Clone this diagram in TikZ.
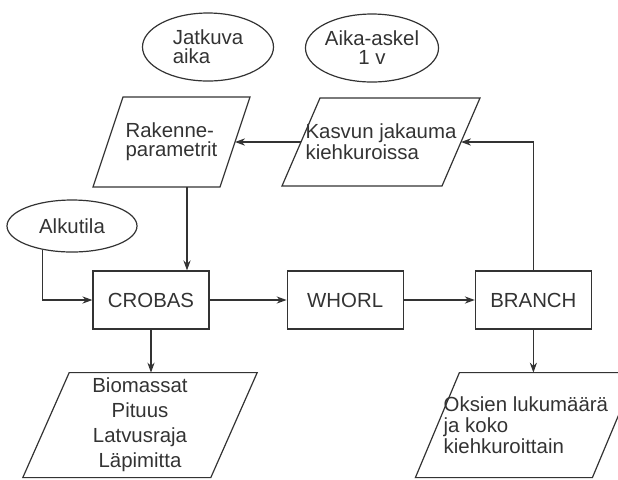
\documentclass[tikz,border=0pt]{standalone}
\usepackage{fontspec}
\setmainfont{Liberation Sans}
\usetikzlibrary{arrows.meta, positioning, shapes.geometric}

\begin{document}
\begin{tikzpicture}[x=0.5pt, y=-0.5pt, >={Stealth[length=5pt, width=3.6pt]},
    line width=0.6pt, color=black!80,
    every node/.style={font=\fontsize{10.2}{9.5}\selectfont},
    box/.style={draw, rectangle, minimum width=58pt, minimum height=29pt},
    oval/.style={draw, ellipse, inner sep=0pt, minimum width=65.5pt, minimum height=34pt},
    io/.style={rectangle, inner sep=2pt, outer sep=0pt}]
    \path[use as bounding box, clip] (0,0) rectangle (618,479);

    \node[oval, align=left] (jatkuva) at (208,47) {Jatkuva\\aika};
    \node[oval, align=center] (askel) at (372,48) {Aika-askel\\1 v};
    \node[oval, minimum width=65pt, minimum height=26pt] (alku) at (72,226) {Alkutila};

    \node[io, align=left, minimum width=63.5pt, minimum height=45pt] (rakenne) at (171.5,142) {Rakenne-\\parametrit};
    \node[io, align=left, minimum width=80pt, minimum height=44pt] (kasvu) at (381,142) {Kasvun jakauma\\kiehkuroissa};

    \node[box] (crobas) at (151,300) {CROBAS};
    \node[box] (whorl) [right=38.5pt of crobas] {WHORL};
    \node[box] (branch) [right=35.5pt of whorl] {BRANCH};

    \node[io, align=center, minimum width=94pt, minimum height=52.5pt,
        font=\fontsize{10.2}{12.5}\selectfont] (biomass) [below=21.5pt of crobas, xshift=-5.5pt]
        {Biomassat\\Pituus\\Latvusraja\\Läpimitta};
    \node[io, align=left, minimum width=88.5pt, minimum height=52.5pt,
        font=\fontsize{10.2}{10.5}\selectfont] (oksat) [below=21.5pt of branch, xshift=-3.75pt]
        {Oksien lukumäärä\\ja koko\\kiehkuroittain};

    % parallelograms round the io nodes
    \foreach \n/\s in {rakenne/7.5pt, kasvu/9.5pt, biomass/11.6pt, oksat/11pt}
        \draw ([xshift=-\s]\n.south west) -- ([xshift=\s]\n.north west)
            -- ([xshift=\s]\n.north east) -- ([xshift=-\s]\n.south east) -- cycle;

    \coordinate (drop) at ([xshift=18pt]crobas.north);

    \draw[->] (kasvu) -- (rakenne);
    \draw[->] (branch.north) |- (kasvu.east);
    \draw[->] (drop |- rakenne.south) -- (drop);
    \draw[->] (alku.219) |- (crobas.west);
    \draw[->] (crobas) -- (whorl);
    \draw[->] (whorl) -- (branch);
    \draw[->] (crobas) -- (crobas |- biomass.north);
    \draw[->] (branch) -- (branch |- oksat.north);
\end{tikzpicture}
\end{document}
